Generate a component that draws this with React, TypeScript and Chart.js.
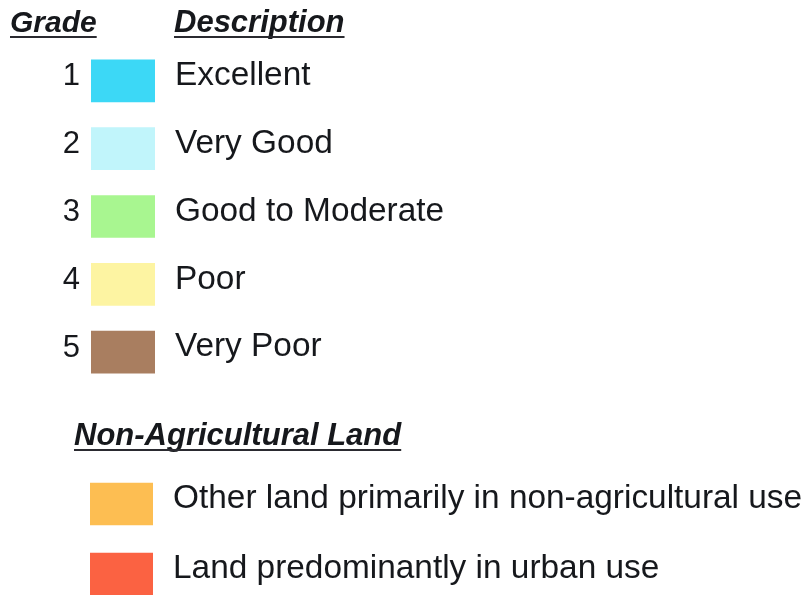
import React, { useEffect, useRef } from "react";
import { Chart, registerables } from "chart.js";

Chart.register(...registerables);

// ---- data ----
const grades = ["1", "2", "3", "4", "5"];
const gradeDescriptions = ["Excellent", "Very Good", "Good to Moderate", "Poor", "Very Poor"];
const gradeColors = ["#3cd8f6", "#c1f5fb", "#a8f690", "#fdf4a2", "#a97e60"];
const gradeSwatch = [1, 1, 1, 1, 1];

const nonAgDescriptions = [
  "Other land primarily in non-agricultural use",
  "Land predominantly in urban use",
];
const nonAgColors = ["#fdbe52", "#fb6242"];
const nonAgSwatch = [1, 1];

const gradeHeader = "Grade";
const descriptionHeader = "Description";
const nonAgHeader = "Non-Agricultural Land";

// ---- styling ----
const FONT = '"Liberation Sans", Arial, Helvetica, sans-serif';
const TEXT = "#16181c";
const W = 809;

const headerPlugin = {
  id: "legendHeaders",
  afterDraw(chart: any, _args: any, opts: any) {
    const ctx = chart.ctx;
    (opts.items || []).forEach((h: any) => {
      ctx.save();
      ctx.font = `italic bold ${h.size}px ${FONT}`;
      ctx.fillStyle = TEXT;
      ctx.textAlign = "left";
      ctx.textBaseline = "alphabetic";
      ctx.fillText(h.text, h.x, h.y);
      const w = ctx.measureText(h.text).width;
      ctx.fillStyle = "#2a2a30";
      ctx.fillRect(h.x, h.y + 4, w, 2);
      ctx.restore();
    });
  },
};

function makeConfig(
  labels: string[],
  descriptions: string[],
  values: number[],
  colors: string[],
  opts: { showLeft: boolean; left: number; right: number; top: number; bottom: number; headers: any[] }
): any {
  const noPad = (s: any) => {
    s.paddingTop = 0;
    s.paddingBottom = 0;
  };
  return {
    type: "bar",
    data: {
      labels,
      datasets: [
        {
          data: values,
          backgroundColor: colors,
          borderWidth: 0,
          barThickness: 42,
          yAxisID: "y",
          xAxisID: "x",
        },
      ],
    },
    plugins: [headerPlugin],
    options: {
      indexAxis: "y",
      responsive: false,
      animation: false,
      devicePixelRatio: 1,
      layout: {
        padding: { top: opts.top, bottom: opts.bottom, left: 0, right: 0 },
      },
      plugins: {
        legend: { display: false },
        tooltip: { enabled: false },
        legendHeaders: { items: opts.headers },
      },
      scales: {
        x: { type: "linear", min: 0, max: 1, display: false },
        y: {
          type: "category",
          position: "left",
          offset: true,
          display: true,
          grid: { display: false, drawTicks: false },
          border: { display: false },
          ticks: {
            display: opts.showLeft,
            font: { family: FONT, size: 31 },
            color: TEXT,
            padding: 11,
            labelOffset: -4,
          },
          afterFit: (s: any) => {
            s.width = opts.left;
            noPad(s);
          },
        },
        y2: {
          type: "category",
          position: "right",
          labels: descriptions,
          offset: true,
          grid: { display: false, drawTicks: false },
          border: { display: false },
          ticks: {
            font: { family: FONT, size: 33.4 },
            color: TEXT,
            padding: 20,
            labelOffset: -5,
          },
          afterFit: (s: any) => {
            s.width = W - opts.right;
            noPad(s);
          },
        },
      },
    },
  };
}

export default function App() {
  const topRef = useRef<HTMLCanvasElement>(null);
  const botRef = useRef<HTMLCanvasElement>(null);

  useEffect(() => {
    const top = new Chart(
      topRef.current as HTMLCanvasElement,
      makeConfig(grades, gradeDescriptions, gradeSwatch, gradeColors, {
        showLeft: true,
        left: 91,
        right: 155,
        top: 47,
        bottom: 9,
        headers: [
          { text: gradeHeader, x: 10, y: 32, size: 30 },
          { text: descriptionHeader, x: 174, y: 32, size: 31 },
        ],
      })
    );
    const bot = new Chart(
      botRef.current as HTMLCanvasElement,
      makeConfig(nonAgDescriptions, nonAgDescriptions, nonAgSwatch, nonAgColors, {
        showLeft: false,
        left: 90,
        right: 153,
        top: 74,
        bottom: 0,
        headers: [{ text: nonAgHeader, x: 74, y: 50, size: 31 }],
      })
    );
    return () => {
      top.destroy();
      bot.destroy();
    };
  }, []);

  return (
    <div
      style={{
        position: "fixed",
        left: 0,
        top: 0,
        width: 809,
        height: 595,
        overflow: "hidden",
        background: "#ffffff",
      }}
    >
      <canvas ref={topRef} width={809} height={395} style={{ position: "absolute", left: 0, top: 0 }} />
      <canvas ref={botRef} width={809} height={214} style={{ position: "absolute", left: 0, top: 395 }} />
    </div>
  );
}
